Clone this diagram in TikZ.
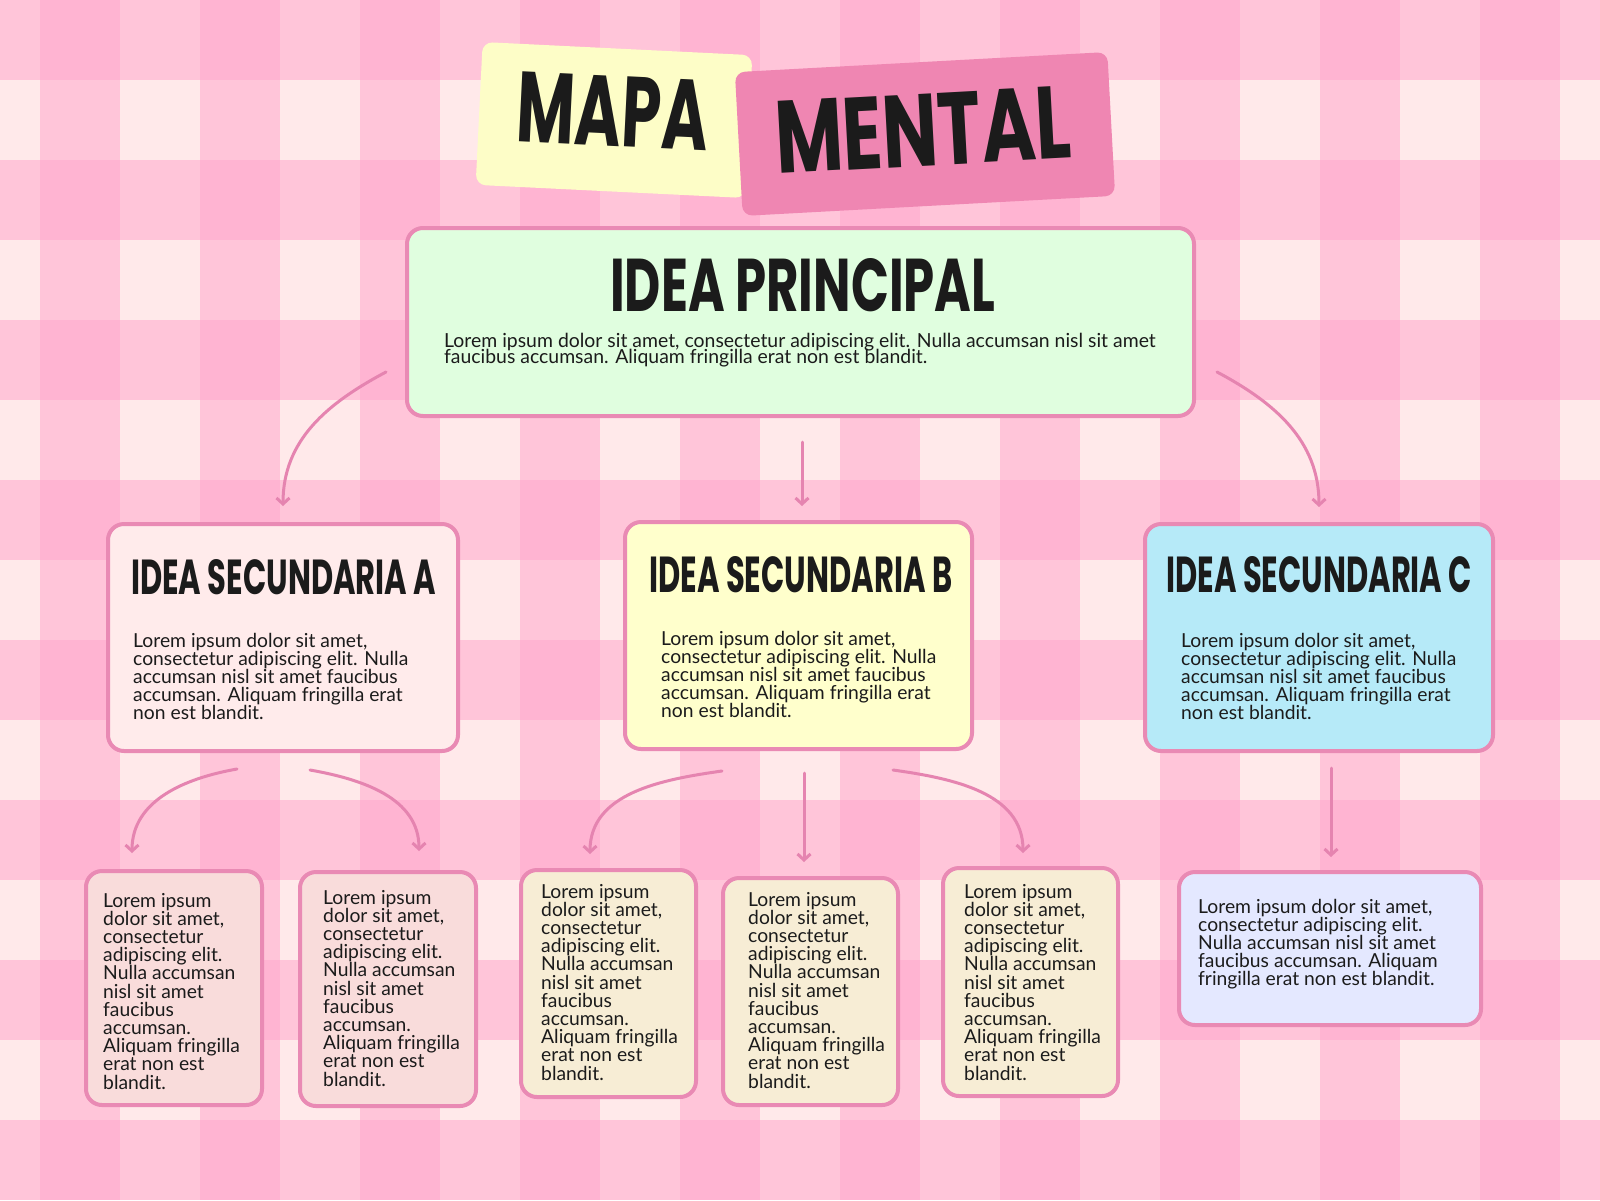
\documentclass[tikz,border=0pt]{standalone}
\usepackage{fontspec}
\usepackage{graphicx}
\usetikzlibrary{arrows.meta}
\setmainfont{Lato}
\newfontfamily\bodyfont{Lato}
\newfontfamily\headfont{Poppins}
\definecolor{bgL}{HTML}{FFE9EA}
\definecolor{bgM}{HTML}{FFC5D9}
\definecolor{bgD}{HTML}{FFB4D2}
\definecolor{edge}{HTML}{E98AB4}
\definecolor{arrowc}{HTML}{E584B0}
\definecolor{ink}{HTML}{1B1B1B}
\definecolor{fMain}{HTML}{E0FEDF}
\definecolor{fA}{HTML}{FFEBEB}
\definecolor{fB}{HTML}{FFFFCC}
\definecolor{fC}{HTML}{B6EAF8}
\definecolor{fAA}{HTML}{F9DCDB}
\definecolor{fBB}{HTML}{F7EDD5}
\definecolor{fCC}{HTML}{E4E8FF}
\definecolor{tYel}{HTML}{FDFDC7}
\definecolor{tPink}{HTML}{EF86B2}
\newcommand\lin[1]{\hbox{#1}}
\newcommand\blines[2]{\vtop{#1\lineskiplimit=-100pt\lineskip=0pt #2}}
\newcommand\bodysz{\bodyfont\fontsize{19.3}{18.2}\selectfont}
\newcommand\head[3]{\resizebox{#1pt}{#2pt}{\headfont\bfseries #3}}
\newcommand\secondtext{\lin{Lorem ipsum dolor sit amet,}\lin{consectetur adipiscing elit. Nulla}\lin{accumsan nisl sit amet faucibus}\lin{accumsan. Aliquam fringilla erat}\lin{non est blandit.}}
\newcommand\thirdtext{\lin{Lorem ipsum}\lin{dolor sit amet,}\lin{consectetur}\lin{adipiscing elit.}\lin{Nulla accumsan}\lin{nisl sit amet}\lin{faucibus}\lin{accumsan.}\lin{Aliquam fringilla}\lin{erat non est}\lin{blandit.}}
\begin{document}
\begin{tikzpicture}[x=1pt,y=-1pt,
  box/.style={draw=edge, line width=4pt, rounded corners=16pt, inner sep=0pt},
  txt/.style={inner sep=0pt, anchor=base west, text=ink},
  hd/.style={inner sep=0pt, anchor=base west, text=ink},
  arr/.style={draw=arrowc, line width=3pt, line cap=round, -{Straight Barb[length=6pt,width=13pt]}},
  tbox/.style={rounded corners=10pt, inner sep=0pt}]
\useasboundingbox (0,0) rectangle (1600,1200);
% gingham background
\fill[bgL] (0,0) rectangle (1600,1200);
\foreach \r in {0,...,7} \fill[bgM] (0,160*\r) rectangle (1600,160*\r+80);
\foreach \c in {0,...,9} \fill[bgM] (40+160*\c,0) rectangle (120+160*\c,1200);
\foreach \r in {0,...,7} \foreach \c in {0,...,9} \fill[bgD] (40+160*\c,160*\r) rectangle (120+160*\c,160*\r+80);
% title
\node[tbox, fill=tYel, rotate=-2.8, minimum width=270pt, minimum height=143pt] (tyel) at (614,120) {};
\node[tbox, fill=tPink, rotate=3.1, minimum width=373pt, minimum height=144pt] (tpink) at (925,134) {};
\node[inner sep=0pt, rotate=-2.8, text=ink] (tmapa) at (613,111) {\head{191}{70}{MAPA}};
\node[inner sep=0pt, rotate=3.1, text=ink] (tmental) at (923,130) {\head{296}{72}{MENTAL}};
% boxes
\node[box, fill=fMain, minimum width=787pt, minimum height=188pt] (main) at (800.5,322) {};
\node[box, fill=fA, minimum width=350pt, minimum height=227pt] (sa) at (283,637.5) {};
\node[box, fill=fB, minimum width=347pt, minimum height=227pt] (sb) at (798.5,635.5) {};
\node[box, fill=fC, minimum width=348pt, minimum height=227pt] (sc) at (1319,637.5) {};
\node[box, fill=fAA, minimum width=176pt, minimum height=234pt] (ta1) at (174,988) {};
\node[box, fill=fAA, minimum width=176pt, minimum height=234pt] (ta2) at (388,989) {};
\node[box, fill=fBB, minimum width=175pt, minimum height=227pt] (tb1) at (608.5,983.5) {};
\node[box, fill=fBB, minimum width=175pt, minimum height=227pt] (tb2) at (810.5,991.5) {};
\node[box, fill=fBB, minimum width=175pt, minimum height=228pt] (tb3) at (1030.5,982) {};
\node[box, fill=fCC, minimum width=302pt, minimum height=153pt] (tc1) at (1330,948.5) {};
% headings
\node[hd] (hmain) at (610,311) {\head{385}{53}{IDEA PRINCIPAL}};
\node[hd] (ha) at (131,594) {\head{305}{35}{IDEA SECUNDARIA A}};
\node[hd] (hb) at (649,592) {\head{303}{36}{IDEA SECUNDARIA B}};
\node[hd] (hc) at (1166,592) {\head{306}{36}{IDEA SECUNDARIA C}};
% texts
\node[txt] (xmain) at (444,347) {\blines{\bodyfont\fontsize{19.4}{16.8}\selectfont}{\lin{Lorem ipsum dolor sit amet, consectetur adipiscing elit. Nulla accumsan nisl sit amet}\lin{faucibus accumsan. Aliquam fringilla erat non est blandit.}}};
\node[txt] (xa) at (133,647) {\blines{\bodysz}{\secondtext}};
\node[txt] (xb) at (661,645) {\blines{\bodysz}{\secondtext}};
\node[txt] (xc) at (1181,647) {\blines{\bodysz}{\secondtext}};
\node[txt] (xa1) at (103,907) {\blines{\bodysz}{\thirdtext}};
\node[txt] (xa2) at (323,904) {\blines{\bodysz}{\thirdtext}};
\node[txt] (xb1) at (541,898) {\blines{\bodysz}{\thirdtext}};
\node[txt] (xb2) at (748,906) {\blines{\bodysz}{\thirdtext}};
\node[txt] (xb3) at (964,898) {\blines{\bodysz}{\thirdtext}};
\node[txt] (xc1) at (1198,913) {\blines{\bodysz}{\lin{Lorem ipsum dolor sit amet,}\lin{consectetur adipiscing elit.}\lin{Nulla accumsan nisl sit amet}\lin{faucibus accumsan. Aliquam}\lin{fringilla erat non est blandit.}}};
% connector ends
\coordinate (m2a) at (386,372);  \coordinate (a-in) at (283,506);
\coordinate (m2b) at (802,442);  \coordinate (b-in) at (802,506);
\coordinate (m2c) at (1217,372); \coordinate (c-in) at (1319,507);
\coordinate (a2a1) at (237,769); \coordinate (a1-in) at (132,853);
\coordinate (a2a2) at (310,770); \coordinate (a2-in) at (419,851);
\coordinate (b2b1) at (722,771); \coordinate (b1-in) at (590,854);
\coordinate (b2b2) at (804,773); \coordinate (b2-in) at (804,862);
\coordinate (b2b3) at (893,770); \coordinate (b3-in) at (1023,853);
\coordinate (c2c1) at (1331,768); \coordinate (c1-in) at (1331,857);
% connectors
\draw[arr] (m2a) to[out=208,in=90] (a-in);
\draw[arr] (m2b) -- (b-in);
\draw[arr] (m2c) to[out=-28,in=90] (c-in);
\draw[arr] (a2a1) to[out=190,in=90] (a1-in);
\draw[arr] (a2a2) to[out=-10,in=90] (a2-in);
\draw[arr] (b2b1) to[out=188,in=90] (b1-in);
\draw[arr] (b2b2) -- (b2-in);
\draw[arr] (b2b3) to[out=-8,in=90] (b3-in);
\draw[arr] (c2c1) -- (c1-in);
\end{tikzpicture}
\end{document}
